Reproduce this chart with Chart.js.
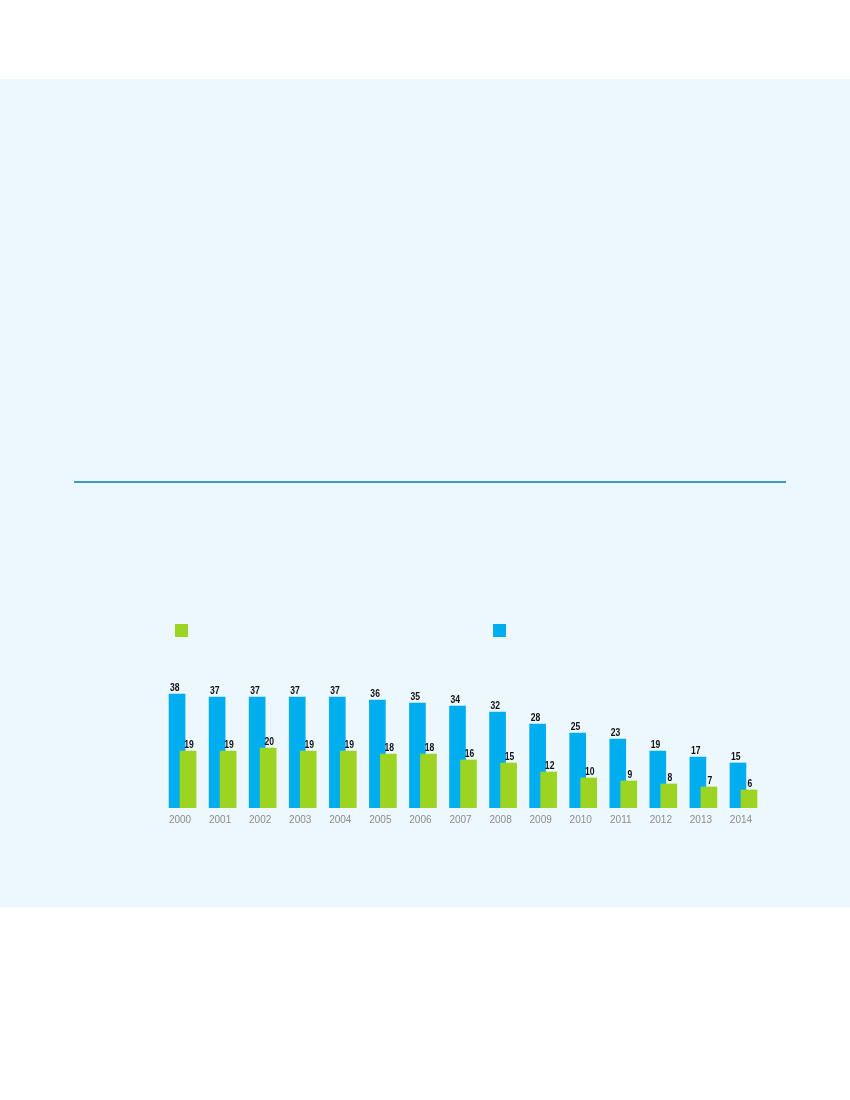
<!DOCTYPE html>
<html>
<head>
<meta charset="utf-8">
<script src="https://cdn.jsdelivr.net/npm/chart.js@4"></script>
<style>
  body { margin: 0; width: 850px; height: 1100px; background: #ffffff; position: relative; overflow: hidden; }
  #painel { position: absolute; left: 0; top: 79px; width: 850px; height: 828px; background: #ecf7fe; }
  #linha { position: absolute; left: 74px; top: 481px; width: 712px; height: 2px; background: #3d9cc8; }
  .leg { position: absolute; top: 624px; width: 13px; height: 13px; }
  .caixa { position: absolute; top: 640px; width: 601px; height: 198px; }
</style>
</head>
<body>
<div id="painel"></div>
<div id="linha"></div>
<div class="leg" style="left:175px;background:#9bd421"></div>
<div class="leg" style="left:493px;background:#00aeef"></div>
<!-- dois graficos sobrepostos: verde por cima e deslocado para a direita -->
<div class="caixa" style="left:157px"><canvas id="gAzul"></canvas></div>
<div class="caixa" style="left:168px"><canvas id="gVerde"></canvas></div>
<script>
// anos e valores
const anos = ['2000','2001','2002','2003','2004','2005','2006','2007','2008','2009','2010','2011','2012','2013','2014'];
const azul = [38, 37, 37, 37, 37, 36, 35, 34, 32, 28, 25, 23, 19, 17, 15];
const verde = [19, 19, 20, 19, 19, 18, 18, 16, 15, 12, 10, 9, 8, 7, 6];

const corAzul = '#00aeef';
const corVerde = '#9bd421';

// rotulos em cima das barras (texto comprimido na horizontal)
function rotulos(alinhar) {
  return {
    id: 'rotulos',
    afterDatasetsDraw(chart) {
      const ctx = chart.ctx;
      const ds = chart.data.datasets[0];
      ctx.save();
      ctx.fillStyle = '#111';
      ctx.font = 'bold 11px "Liberation Sans", Arial, sans-serif';
      ctx.textBaseline = 'bottom';
      ctx.textAlign = alinhar;
      chart.getDatasetMeta(0).data.forEach(function(bar, j) {
        let x = alinhar === 'left' ? bar.x - bar.width / 2 + 1 : bar.x + 1;
        ctx.save();
        ctx.translate(x, bar.y - 1);
        ctx.scale(0.78, 1);
        ctx.fillText(ds.data[j], 0, 0);
        ctx.restore();
      });
      ctx.restore();
    }
  };
}

function grafico(id, valores, cor, comTicks, alinhar) {
  return new Chart(document.getElementById(id), {
    type: 'bar',
    data: {
      labels: anos,
      datasets: [{ data: valores, backgroundColor: cor, barThickness: 16 }]
    },
    options: {
      responsive: true,
      maintainAspectRatio: false,
      animation: false,
      layout: { padding: { top: 42, left: 0, right: 0, bottom: 0 } },
      plugins: { legend: { display: false }, tooltip: { enabled: false } },
      scales: {
        x: {
          grid: { display: false },
          border: { display: false },
          ticks: {
            display: comTicks,
            color: '#8c8c8c',
            padding: -2,
            labelOffset: 3,
            font: { family: '"Liberation Sans", Arial, sans-serif', size: 10 }
          },
          afterFit: function(s) { s.height = 30; }
        },
        y: { display: false, min: 0, max: 42 }
      }
    },
    plugins: [rotulos(alinhar)]
  });
}

grafico('gAzul', azul, corAzul, true, 'left');
grafico('gVerde', verde, corVerde, false, 'center');
</script>
</body>
</html>
